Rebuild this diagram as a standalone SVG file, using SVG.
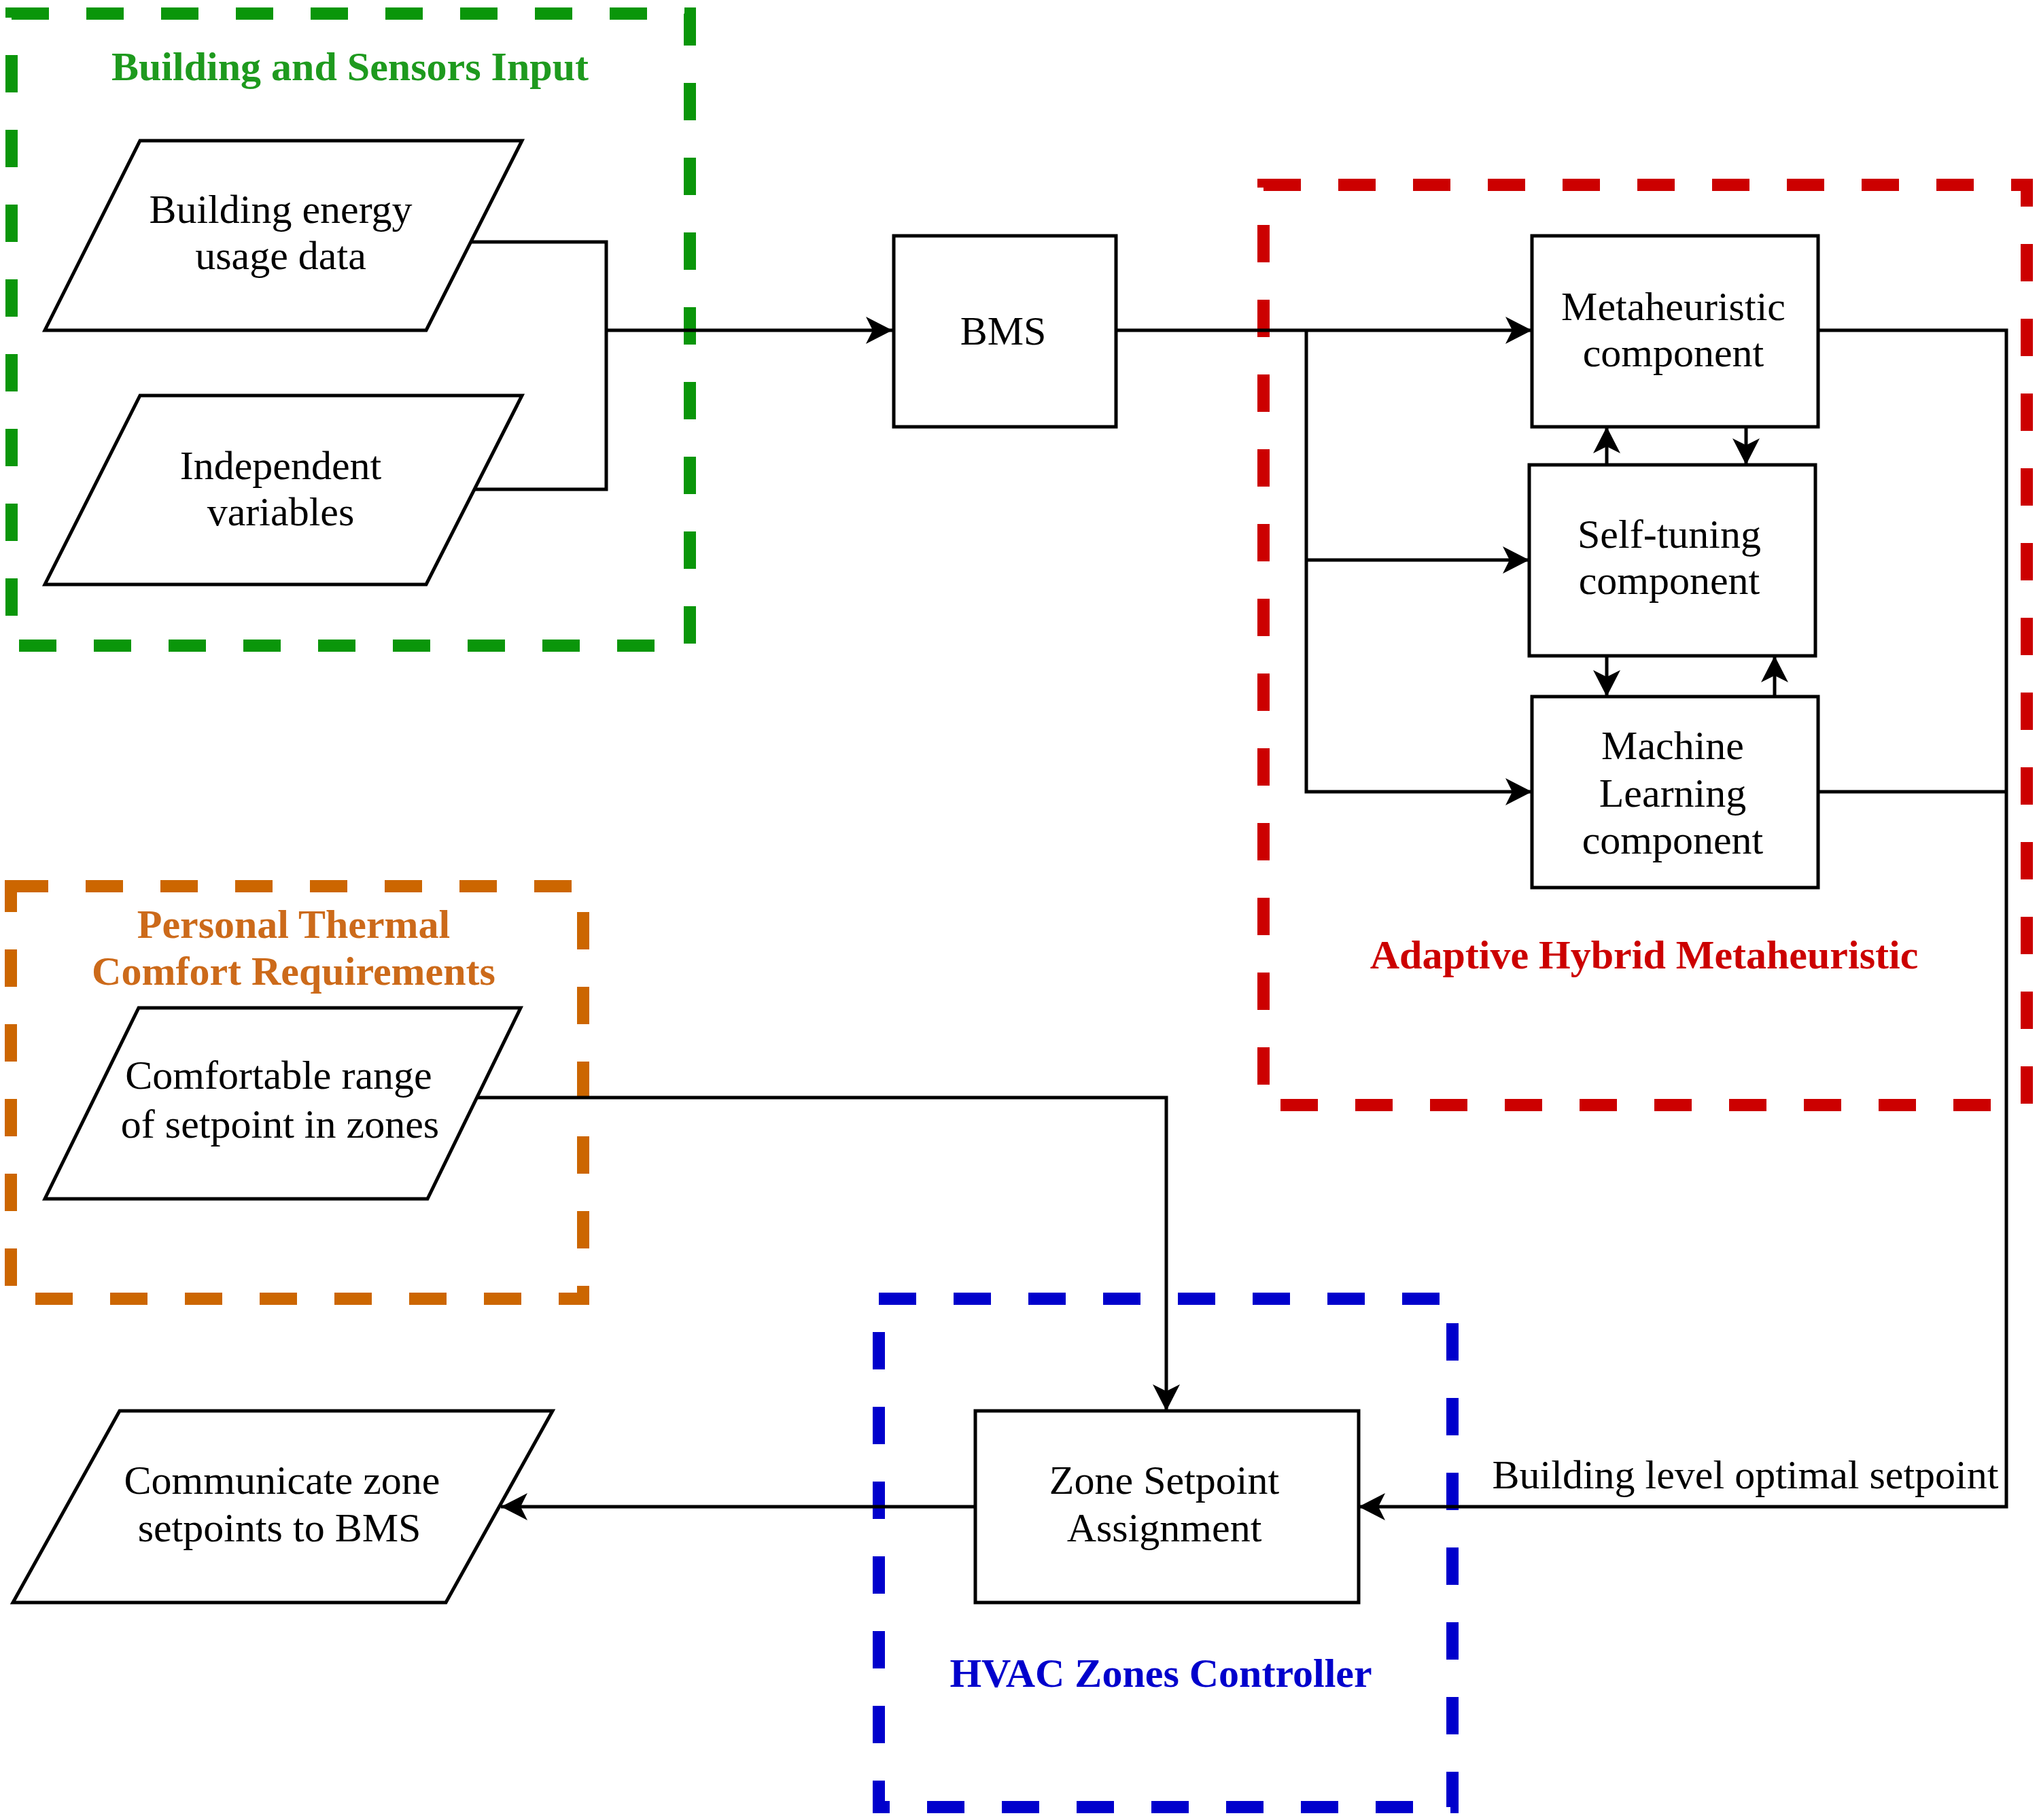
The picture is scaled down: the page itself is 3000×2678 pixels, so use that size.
<svg xmlns="http://www.w3.org/2000/svg" width="3000" height="2678" viewBox="0 0 3000 2678">
<style>
.grp{fill:none;stroke-width:18;stroke-dasharray:55 55}
.node{fill:#fff;stroke:#000;stroke-width:5}
.conn{fill:none;stroke:#000;stroke-width:5}
.t{font-family:"Liberation Serif","Times New Roman",serif;font-size:60px;text-anchor:middle;fill:#000}
.b{font-family:"Liberation Serif","Times New Roman",serif;font-size:60px;font-weight:bold;text-anchor:middle}
</style>
<defs>
<marker id="arr" markerUnits="userSpaceOnUse" markerWidth="44" markerHeight="44" viewBox="0 -22 44 44" refX="39" refY="0" orient="auto">
<path d="M0,-20 L39,0 L0,20 L10,0 Z" fill="#000"/>
</marker>
</defs>
<rect width="3000" height="2678" fill="#fff"/>

<g id="group-building-sensors">
<rect class="grp" x="17" y="20" width="998" height="930" stroke="#0a960a"/>
<text class="b" x="515" y="118" fill="#1e9a1e">Building and Sensors Input</text>
</g>
<g id="group-adaptive-hybrid">
<rect class="grp" x="1859" y="272" width="1123" height="1354" stroke="#cc0000"/>
<text class="b" x="2419" y="1425" fill="#cc0000">Adaptive Hybrid Metaheuristic</text>
</g>
<g id="group-thermal-comfort">
<rect class="grp" x="16" y="1304" width="842" height="607" stroke="#cc6600"/>
<text class="b" x="432" y="1380" fill="#cc6a1a">Personal Thermal</text>
<text class="b" x="432" y="1449" fill="#cc6a1a">Comfort Requirements</text>
</g>
<g id="group-hvac">
<rect class="grp" x="1293" y="1911" width="844" height="748" stroke="#0000cc"/>
<text class="b" x="1708" y="2482" fill="#0000cc">HVAC Zones Controller</text>
</g>

<g id="connectors">
<path class="conn" d="M693,356 H892 V720 H698"/>
<path class="conn" d="M892,486 H1313" marker-end="url(#arr)"/>
<path class="conn" d="M1642,486 H2254" marker-end="url(#arr)"/>
<path class="conn" d="M1922,486 V1165 H2254" marker-end="url(#arr)"/>
<path class="conn" d="M1922,824 H2250" marker-end="url(#arr)"/>
<path class="conn" d="M2364,684 V628" marker-end="url(#arr)"/>
<path class="conn" d="M2569,628 V684" marker-end="url(#arr)"/>
<path class="conn" d="M2364,965 V1025" marker-end="url(#arr)"/>
<path class="conn" d="M2611,1025 V965" marker-end="url(#arr)"/>
<path class="conn" d="M2675,486 H2952 V2217 H1999" marker-end="url(#arr)"/>
<path class="conn" d="M2675,1165 H2952"/>
<path class="conn" d="M702,1615 H1716 V2076" marker-end="url(#arr)"/>
<path class="conn" d="M1435,2217 H737" marker-end="url(#arr)"/>
<text class="t" x="2568" y="2190">Building level optimal setpoint</text>
</g>

<g id="node-energy-data">
<polygon class="node" points="206,207 768,207 627,486 66,486"/>
<text class="t" x="413" y="328">Building energy</text>
<text class="t" x="413" y="396">usage data</text>
</g>
<g id="node-independent">
<polygon class="node" points="206,582 768,582 627,860 66,860"/>
<text class="t" x="413" y="705">Independent</text>
<text class="t" x="413" y="773">variables</text>
</g>
<g id="node-bms">
<rect class="node" x="1315" y="347" width="327" height="281"/>
<text class="t" x="1476" y="507">BMS</text>
</g>
<g id="node-metaheuristic">
<rect class="node" x="2254" y="347" width="421" height="281"/>
<text class="t" x="2462" y="471">Metaheuristic</text>
<text class="t" x="2462" y="539">component</text>
</g>
<g id="node-selftuning">
<rect class="node" x="2250" y="684" width="421" height="281"/>
<text class="t" x="2456" y="806">Self-tuning</text>
<text class="t" x="2456" y="874">component</text>
</g>
<g id="node-ml">
<rect class="node" x="2254" y="1025" width="421" height="281"/>
<text class="t" x="2461" y="1117">Machine</text>
<text class="t" x="2461" y="1187">Learning</text>
<text class="t" x="2461" y="1256">component</text>
</g>
<g id="node-comfort-range">
<polygon class="node" points="204,1483 766,1483 629,1764 66,1764"/>
<text class="t" x="410" y="1602">Comfortable range</text>
<text class="t" x="412" y="1674">of setpoint in zones</text>
</g>
<g id="node-zone-setpoint">
<rect class="node" x="1435" y="2076" width="564" height="282"/>
<text class="t" x="1713" y="2198">Zone Setpoint</text>
<text class="t" x="1713" y="2268">Assignment</text>
</g>
<g id="node-communicate">
<polygon class="node" points="176,2076 813,2076 656,2358 19,2358"/>
<text class="t" x="415" y="2198">Communicate zone</text>
<text class="t" x="411" y="2268">setpoints to BMS</text>
</g>
</svg>
